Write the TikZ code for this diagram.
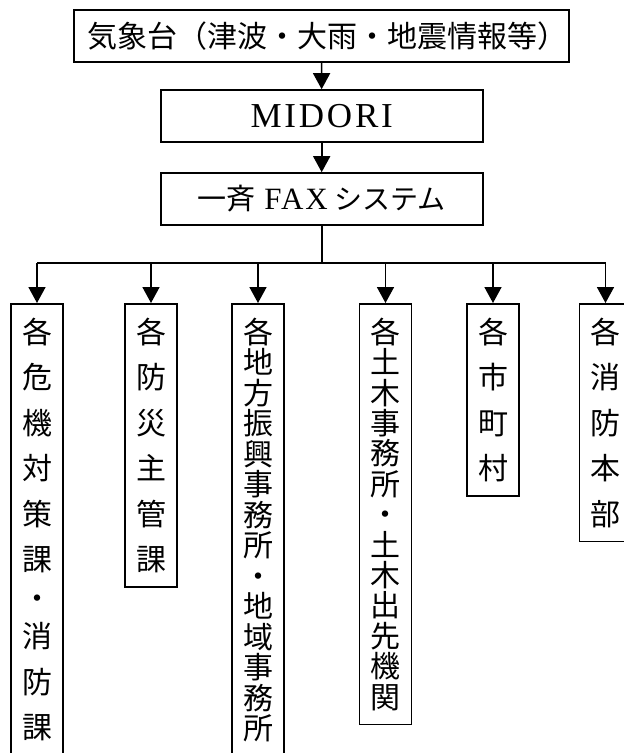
\documentclass[tikz,border=0pt]{standalone}
\usepackage{fontspec}
\setmainfont{Liberation Serif}
\newfontfamily\jpfont{Noto Sans CJK JP}
\usetikzlibrary{arrows.meta}

\begin{document}
\begin{tikzpicture}[x=1pt,y=-1pt]
\tikzset{stage/.style={draw, line width=1.6pt, inner sep=0pt, minimum height=52pt},
         unit/.style={draw, line width=1.6pt, anchor=north, minimum width=52pt,
                      inner xsep=0pt, inner ysep=14pt, align=center,
                      font=\jpfont\fontsize{30}{45.5}\selectfont},
         packed/.style={font=\jpfont\fontsize{30}{30.5}\selectfont},
         feed/.style={line width=1.6pt, -{Triangle[width=17pt,length=16pt]}}}
\useasboundingbox (0,0) rectangle (624,753);
\clip (0,0) rectangle (624,753);
\fill[white] (0,0) rectangle (624,753);

\node[stage, minimum width=495pt, font=\jpfont\fontsize{30}{32}\selectfont] (jma) at (321.5,36)
  {気象台（津波・大雨・地震情報等）\kern-12pt};
\node[stage, minimum width=322pt, font=\fontsize{35}{36}\selectfont\addfontfeature{LetterSpace=8}] (midori) at (321.7,116)
  {MIDORI};
\node[stage, minimum width=322pt, font=\fontsize{31}{32}\selectfont] (fax) at (321.7,199)
  {{\jpfont\fontsize{29}{30}\selectfont 一斉}\hspace{9pt}{\addfontfeature{LetterSpace=6}FAX}\hspace{7pt}{\jpfont\fontsize{28}{30}\selectfont システム}};

\draw[feed] (jma) -- (midori);
\draw[feed] (midori) -- (fax);

\coordinate (bus) at (321.7,263);
\node[unit] (kiki)   at (37,303)    {各\\危\\機\\対\\策\\課\\[-7pt]・\\[-7pt]消\\防\\課};
\node[unit] (bousai) at (151,303)   {各\\防\\災\\主\\管\\課};
\node[unit, packed] (chiho) at (258,303) {各\\地\\方\\振\\興\\事\\務\\所\\・\\地\\域\\事\\務\\所};
\node[unit, font=\jpfont\fontsize{30}{30.4}\selectfont] (doboku) at (385.5,303) {各\\土\\木\\事\\務\\所\\・\\土\\木\\出\\先\\機\\関};
\node[unit] (shichoson) at (493,303) {各\\市\\町\\村};
\node[unit] (shobo)  at (605.5,303) {各\\消\\防\\本\\部};

\draw[line width=1.6pt] (fax) -- (bus);
\draw[line width=1.6pt] (kiki.north |- bus) -- (shobo.north |- bus);
\foreach \u in {kiki,bousai,chiho,doboku,shichoson,shobo}
  \draw[feed] (\u.north |- bus) -- (\u.north);
\end{tikzpicture}
\end{document}
